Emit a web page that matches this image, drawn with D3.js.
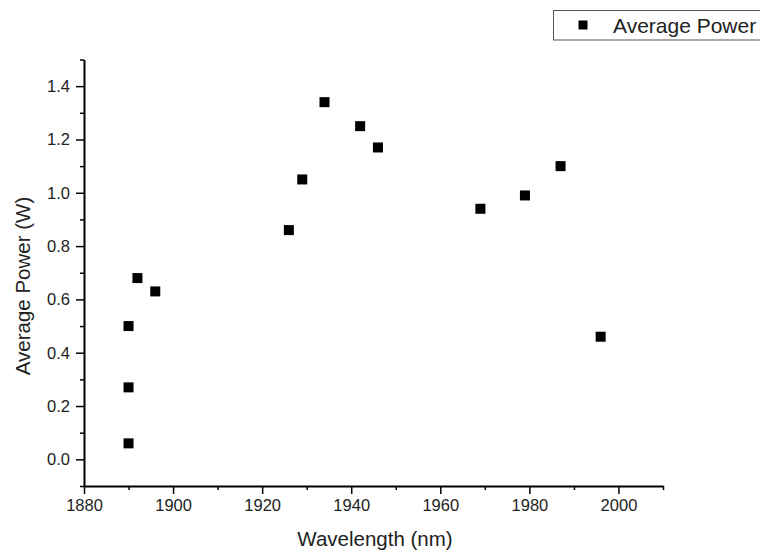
<!DOCTYPE html>
<html>
<head>
<meta charset="utf-8">
<script src="https://cdn.jsdelivr.net/npm/d3@7"></script>
<style>
  html, body { margin: 0; padding: 0; background: #fff; }
  svg { display: block; font-family: Arial, "Liberation Sans", sans-serif; }
</style>
</head>
<body>
<svg id="chart" width="760" height="553"></svg>
<script>
const wavelengths = [1890, 1890, 1890, 1892, 1896, 1926, 1929, 1934, 1942, 1946, 1969, 1979, 1987, 1996];
const powers      = [0.06, 0.27, 0.50, 0.68, 0.63, 0.86, 1.05, 1.34, 1.25, 1.17, 0.94, 0.99, 1.10, 0.46];
const xTicks = [1880, 1900, 1920, 1940, 1960, 1980, 2000];
const xMinorTicks = [1890, 1910, 1930, 1950, 1970, 1990, 2010];
const yTicks = [0.0, 0.2, 0.4, 0.6, 0.8, 1.0, 1.2, 1.4];
const yMinorTicks = [-0.1, 0.1, 0.3, 0.5, 0.7, 0.9, 1.1, 1.3, 1.5];
const seriesName = "Average Power";
const xTitle = "Wavelength (nm)";
const yTitle = "Average Power (W)";

const svg = d3.select("#chart");
const x = d3.scaleLinear().domain([1880, 2010]).range([84, 663]);
const y = d3.scaleLinear().domain([-0.1, 1.5]).range([486, 59.5]);

// minor ticks
const xMinor = svg.append("g").attr("transform", `translate(0,${y(-0.1)})`)
  .call(d3.axisBottom(x).tickValues(xMinorTicks).tickSize(4).tickFormat(""));
const yMinor = svg.append("g").attr("transform", `translate(${x(1880)},0)`)
  .call(d3.axisLeft(y).tickValues(yMinorTicks).tickSize(4).tickFormat(""));
[xMinor, yMinor].forEach(g => {
  g.select(".domain").remove();
  g.selectAll(".tick line").attr("stroke", "#000").attr("stroke-width", 1.5);
});

// major axes
const xAxis = svg.append("g").attr("transform", `translate(0,${y(-0.1)})`)
  .call(d3.axisBottom(x).tickValues(xTicks).tickSize(8).tickPadding(5).tickSizeOuter(0).tickFormat(d3.format("d")));
const yAxis = svg.append("g").attr("transform", `translate(${x(1880)},0)`)
  .call(d3.axisLeft(y).tickValues(yTicks).tickSize(8).tickPadding(6).tickSizeOuter(0).tickFormat(d3.format(".1f")));
[xAxis, yAxis].forEach(g => {
  g.select(".domain").attr("stroke", "#000").attr("stroke-width", 2);
  g.selectAll(".tick line").attr("stroke", "#000").attr("stroke-width", 1.5);
  g.selectAll(".tick text").attr("fill", "#222").style("font-size", "16.5px").style("font-family", "Arial, 'Liberation Sans', sans-serif");
});

// points
const sz = 10;
svg.append("g").selectAll("rect")
  .data(wavelengths.map((w, i) => ({w, p: powers[i]})))
  .join("rect")
  .attr("x", d => x(d.w) - sz / 2)
  .attr("y", d => y(d.p) - sz / 2)
  .attr("width", sz).attr("height", sz)
  .attr("fill", "#000");

// titles
svg.append("text")
  .attr("x", 375).attr("y", 546)
  .attr("text-anchor", "middle")
  .attr("fill", "#222")
  .style("font-size", "20.5px")
  .text(xTitle);
svg.append("text")
  .attr("transform", `translate(30,286) rotate(-90)`)
  .attr("text-anchor", "middle")
  .attr("fill", "#222")
  .style("font-size", "20.5px")
  .text(yTitle);

// legend
const lg = svg.append("g");
lg.append("rect").attr("x", 553.5).attr("y", 10.5).attr("width", 230).attr("height", 29.5)
  .attr("fill", "#fff").attr("stroke", "#555").attr("stroke-width", 1);
lg.append("rect").attr("x", 583 - 4.5).attr("y", 25 - 4.5).attr("width", 9).attr("height", 9).attr("fill", "#000");
lg.append("text").attr("x", 613).attr("y", 33).attr("fill", "#222")
  .style("font-size", "21px").text(seriesName);
</script>
</body>
</html>
